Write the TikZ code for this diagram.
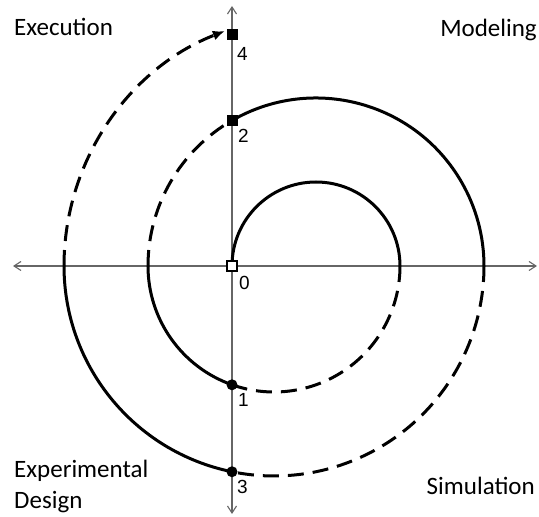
\documentclass[tikz,border=0pt]{standalone}
\usepackage{fontspec}
\setmainfont{Carlito}
\newfontfamily\numfont{Liberation Sans}
\usetikzlibrary{arrows.meta}
\begin{document}
\begin{tikzpicture}[x=1pt,y=1pt,
  axisline/.style={draw=black!60, line width=1.1pt,
    {Straight Barb[length=7pt,width=9pt,line width=1.1pt]}-{Straight Barb[length=7pt,width=9pt,line width=1.1pt]}},
  solidseg/.style={draw=black, line width=3pt},
  dashseg/.style={draw=black, line width=3pt, dash pattern=on 16pt off 9pt},
  opensq/.style={rectangle, draw=black, fill=white, line width=1.4pt, minimum size=10pt, inner sep=0pt},
  fullsq/.style={rectangle, fill=black, minimum size=11pt, inner sep=0pt},
  fulldot/.style={circle, fill=black, minimum size=11pt, inner sep=0pt},
  phase/.style={font=\fontsize{25}{31}\selectfont, inner sep=0pt},
  num/.style={font=\numfont\fontsize{19}{21}\selectfont, inner sep=0pt, anchor=base west}]
\useasboundingbox (0,0) rectangle (539,517);

% phase labels
\node[phase, anchor=base west] (exec) at (14,481) {Execution};
\node[phase, anchor=base east] (model) at (537,480) {Modeling};
\node[phase, anchor=base west] (expd) at (14,39)
  {\begin{tabular}[t]{@{}l@{}}Experimental\\Design\end{tabular}};
\node[phase, anchor=base east] (simu) at (535,22) {Simulation};

\begin{scope}[shift={(232,251)}]
  % axes
  \coordinate (axl) at (-219,0);
  \coordinate (axr) at (305,0);
  \coordinate (axt) at (0,260);
  \coordinate (axb) at (0,-248);
  \draw[axisline] (axl) -- (axr);
  \draw[axisline] (axb) -- (axt);

  % crossing points on the horizontal axis
  \coordinate (O) at (0,0);
  \coordinate (X1) at (168,0);
  \coordinate (X2) at (-84,0);
  \coordinate (X3) at (252,0);
  \coordinate (X4) at (-168,0);

  % markers positions
  \coordinate (P1) at (0,-118.79);
  \coordinate (P2) at (0,145.49);
  \coordinate (P3) at (0,-205.76);
  \coordinate (P4) at (0,231);

  % spiral
  \draw[solidseg] (O) arc[start angle=180, end angle=0, radius=84];
  \draw[dashseg] (X1) arc[start angle=0, end angle=-109.47, radius=126];
  \draw[solidseg] (P1) arc[start angle=-109.47, end angle=-180, radius=126];
  \draw[dashseg] (X2) arc[start angle=180, end angle=120, radius=168];
  \draw[solidseg] (P2) arc[start angle=120, end angle=0, radius=168];
  \draw[dashseg] (X3) arc[start angle=0, end angle=-101.54, radius=210];
  \draw[solidseg] (P3) arc[start angle=-101.54, end angle=-180, radius=210];
  \draw[dashseg, -{Latex[length=12pt,width=10pt]}] (X4) arc[start angle=180, end angle=111.2, radius=252];

  % markers
  \node[opensq] (m0) at (O) {};
  \node[fulldot] (m1) at (P1) {};
  \node[fullsq] (m2) at (P2) {};
  \node[fulldot] (m3) at (P3) {};
  \node[fullsq] (m4) at (P4) {};

  % numbers
  \node[num] (n0) at (7,-24) {0};
  \node[num] (n1) at (6,-141) {1};
  \node[num] (n2) at (6,123) {2};
  \node[num] (n3) at (5,-228) {3};
  \node[num] (n4) at (5,205) {4};
\end{scope}
\end{tikzpicture}
\end{document}
